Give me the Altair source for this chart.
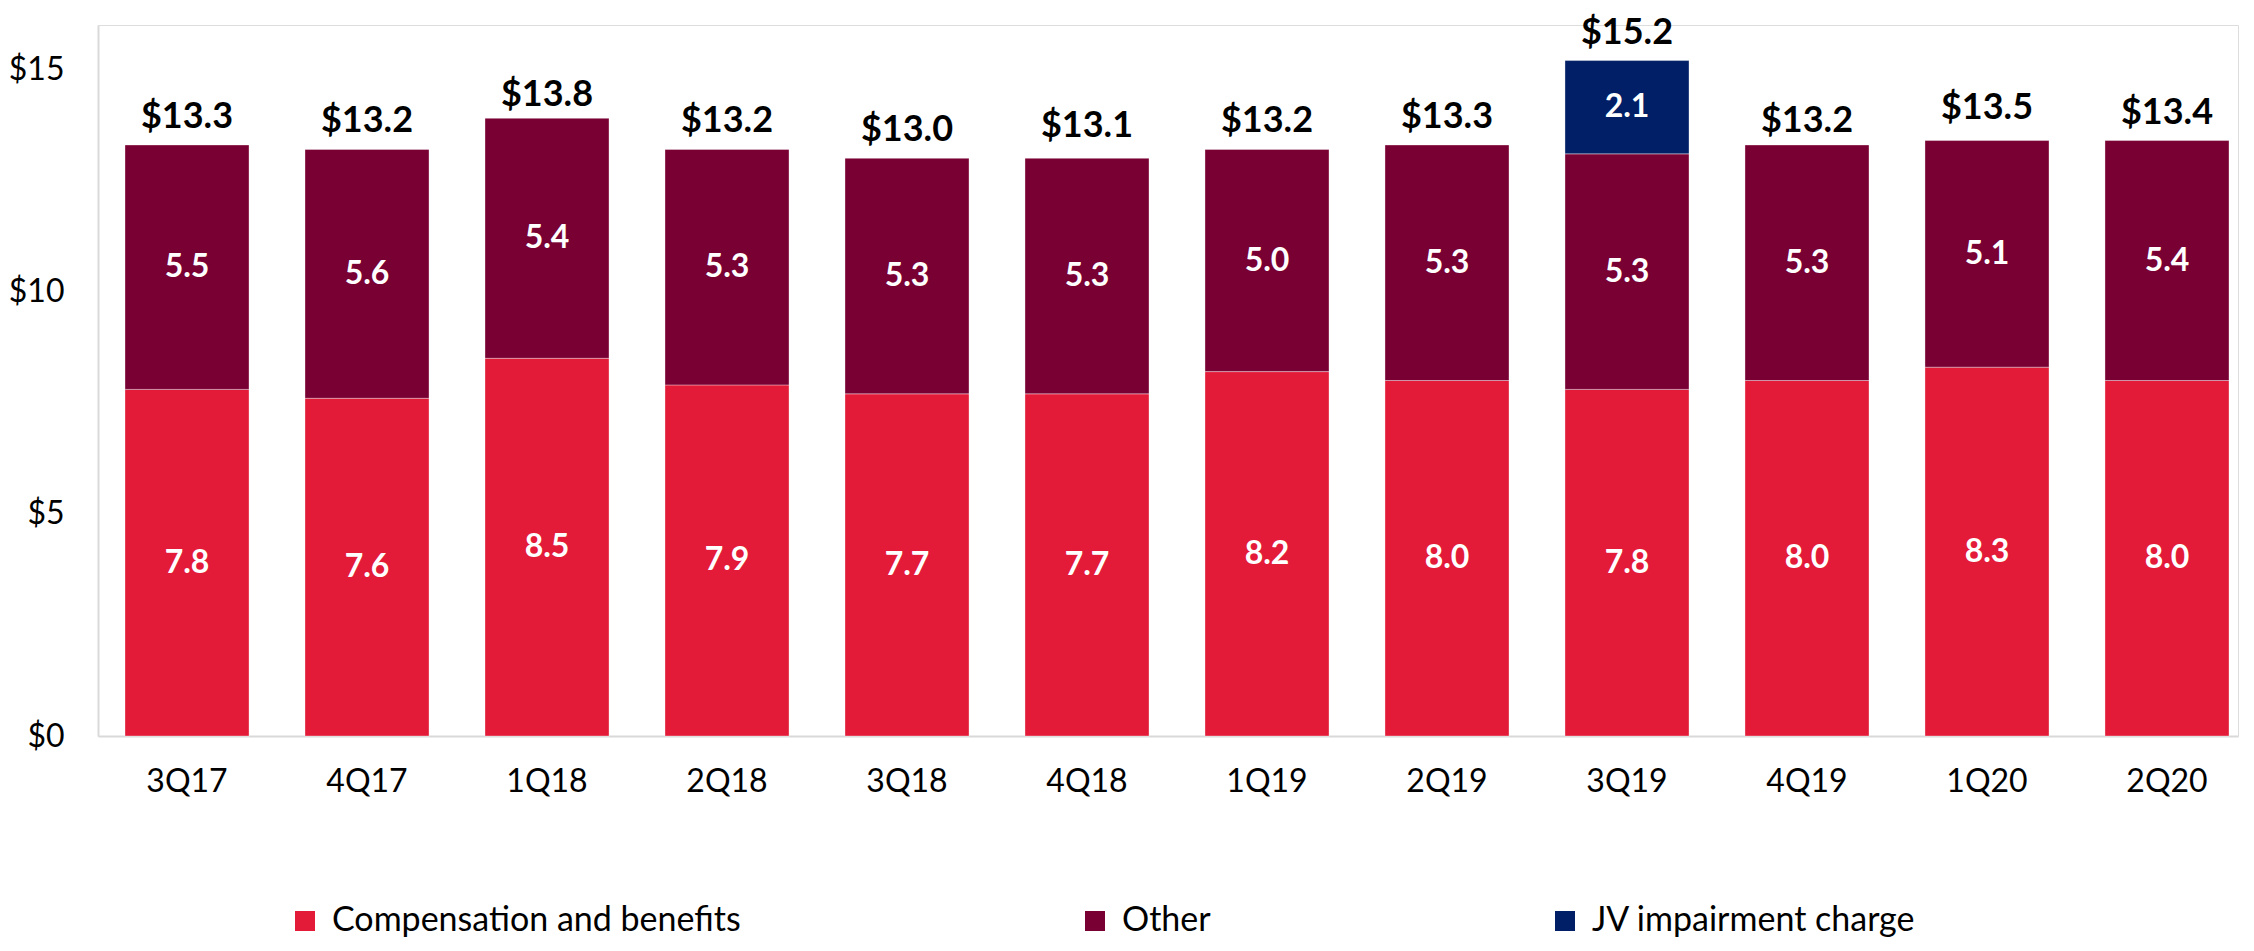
import altair as alt
import pandas as pd

quarters = ["3Q17", "4Q17", "1Q18", "2Q18", "3Q18", "4Q18", "1Q19", "2Q19", "3Q19", "4Q19", "1Q20", "2Q20"]
comp = [7.8, 7.6, 8.5, 7.9, 7.7, 7.7, 8.2, 8.0, 7.8, 8.0, 8.3, 8.0]
other = [5.5, 5.6, 5.4, 5.3, 5.3, 5.3, 5.0, 5.3, 5.3, 5.3, 5.1, 5.4]
jv_quarters = ["3Q19"]
jv = [2.1]
totals = [13.3, 13.2, 13.8, 13.2, 13.0, 13.1, 13.2, 13.3, 15.2, 13.2, 13.5, 13.4]

series = ["Compensation and benefits", "Other", "JV impairment charge"]
colors = ["#E31A38", "#790033", "#001F66"]

rows = []
for q, v in zip(quarters, comp):
    rows.append({"quarter": q, "series": series[0], "value": v, "order": 0})
for q, v in zip(quarters, other):
    rows.append({"quarter": q, "series": series[1], "value": v, "order": 1})
for q, v in zip(jv_quarters, jv):
    rows.append({"quarter": q, "series": series[2], "value": v, "order": 2})
df = pd.DataFrame(rows)
tot = pd.DataFrame({"quarter": quarters, "total": totals})

FONT = "Lato"

x = alt.X("quarter:N", sort=quarters, title=None,
          scale=alt.Scale(paddingInner=0.311, paddingOuter=0.1, align=0.75),
          axis=alt.Axis(labelAngle=0, ticks=False, domainColor="#D9D9D9", domainWidth=2,
                        labelFontSize=32, labelFont=FONT, labelColor="#000000", labelPadding=30))

base = alt.Chart(df).transform_stack(
    stack="value", groupby=["quarter"], as_=["y0", "y1"],
    sort=[alt.SortField("order", "ascending")]
).transform_calculate(mid="(datum.y0 + datum.y1) / 2")

bars = base.mark_bar(stroke="#ffffff", strokeOpacity=0.35, strokeWidth=1).encode(
    x=x,
    y=alt.Y("y0:Q", title=None, scale=alt.Scale(domain=[0, 16], nice=False),
            axis=alt.Axis(values=[0, 5, 10, 15], labelExpr="'$' + datum.value", grid=False, ticks=False,
                          domainColor="#D9D9D9", domainWidth=2, labelFontSize=32, labelFont=FONT,
                          labelColor="#000000", labelPadding=34)),
    y2="y1:Q",
    color=alt.Color("series:N", sort=series,
                    scale=alt.Scale(domain=series, range=colors),
                    legend=alt.Legend(title=None, orient="none", legendX=190, legendY=879,
                                      direction="horizontal", columns=3, columnPadding=337,
                                      symbolType="square", symbolSize=400, symbolStrokeWidth=0,
                                      labelFontSize=34, labelFont=FONT, labelColor="#000000",
                                      labelOffset=10, labelLimit=800)),
)

inner = base.mark_text(color="white", fontSize=32, fontWeight="bold", font=FONT, baseline="middle").encode(
    x=alt.X("quarter:N", sort=quarters),
    y=alt.Y("mid:Q"),
    text=alt.Text("value:Q", format=".1f"),
)

top = alt.Chart(tot).mark_text(color="black", fontSize=36, fontWeight="bold", font=FONT,
                               baseline="alphabetic", dy=-17).encode(
    x=alt.X("quarter:N", sort=quarters),
    y=alt.Y("total:Q"),
    text=alt.Text("total:Q", format="$.1f"),
)

chart = alt.layer(bars, inner, top).properties(
    width=2140, height=711,
    autosize=alt.AutoSizeParams(type="none"),
    padding={"left": 90, "top": 17, "right": 8, "bottom": 206},
).configure_view(stroke=None).configure(background="white")

chart.save("out.html", embed_options={"renderer": "svg", "actions": False})
